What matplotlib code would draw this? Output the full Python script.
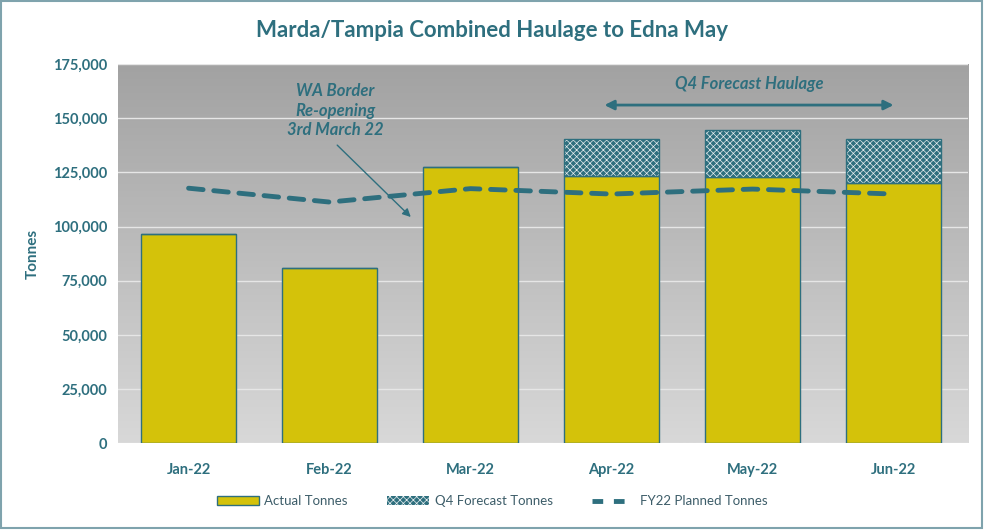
import numpy as np
import matplotlib.pyplot as plt
from matplotlib.patches import Patch, Rectangle
from matplotlib.lines import Line2D
from matplotlib.colors import LinearSegmentedColormap

plt.rcParams['font.family'] = ['Lato', 'DejaVu Sans']
plt.rcParams['hatch.linewidth'] = 0.5

# data
months = ["Jan-22", "Feb-22", "Mar-22", "Apr-22", "May-22", "Jun-22"]
actual = [96500, 80800, 127300, 123300, 122800, 120000]
forecast = [0, 0, 0, 17100, 21700, 20400]
planned = [117700, 111300, 117500, 115000, 117300, 115000]

teal = "#2e6f7e"
yellow = "#d4c20a"

fig = plt.figure(figsize=(9.84, 5.30), dpi=100)
ax = fig.add_axes([0.120, 0.164, 0.864, 0.715])

# gradient background of the plot area
grad = np.linspace(0, 1, 256).reshape(-1, 1)
cmap = LinearSegmentedColormap.from_list("bg", ["#a2a2a2", "#d8d8d8"])
ax.imshow(grad, cmap=cmap, aspect="auto", extent=[0, 1, 0, 1],
          transform=ax.transAxes, zorder=0)

x = np.arange(len(months))
w = 0.67
ax.bar(x, actual, width=w, color=yellow, edgecolor=teal, linewidth=1.0, zorder=3)
# hatched forecast on top: teal fill with white pattern, then teal outline
ax.bar(x, forecast, width=w, bottom=actual, color=teal,
       edgecolor="#e8eef0", hatch="xxxxx", linewidth=0, zorder=3)
ax.bar(x, forecast, width=w, bottom=actual, fill=False,
       edgecolor=teal, linewidth=1.0, zorder=4)
ax.plot(x, planned, color=teal, lw=3.5, dashes=(3, 2.2), zorder=5,
        solid_capstyle="round", dash_capstyle="round")

ax.set_xlim(-0.5, 5.53)
ax.set_ylim(0, 175000)
ax.set_yticks(np.arange(0, 175001, 25000))
ax.set_yticklabels([f"{v:,}" for v in range(0, 175001, 25000)])
ax.set_xticks(x)
ax.set_xticklabels(months)
for s in ax.spines.values():
    s.set_visible(False)
ax.tick_params(length=0, colors=teal, labelsize=10.5, pad=8)
ax.tick_params(axis="x", pad=14)
for lab in ax.get_xticklabels() + ax.get_yticklabels():
    lab.set_fontweight("bold")
ax.yaxis.grid(True, color="#e6e6e6", lw=1.0, zorder=1)
ax.set_axisbelow(True)
ax.set_ylabel("Tonnes", color=teal, fontsize=11, fontweight="bold", labelpad=9)

fig.text(0.5, 0.943, "Marda/Tampia Combined Haulage to Edna May", ha="center",
         va="center", fontsize=16, fontweight="bold", color=teal)

# annotations
ax.text(1.04, 153500, "WA Border\nRe-opening\n3rd March 22", ha="center",
        va="center", fontsize=12, fontweight="bold", style="italic",
        color=teal, linespacing=1.25)
ax.annotate("", xy=(1.59, 103500), xytext=(1.04, 138500),
            arrowprops=dict(arrowstyle="-|>", color=teal, lw=1.0,
                            mutation_scale=12))
ax.text(3.98, 165800, "Q4 Forecast Haulage", ha="center", va="center",
        fontsize=12, fontweight="bold", style="italic", color=teal)
ax.annotate("", xy=(2.93, 156100), xytext=(5.02, 156100),
            arrowprops=dict(arrowstyle="<|-|>", color=teal, lw=2.0,
                            mutation_scale=14))

handles = [
    Patch(facecolor=yellow, edgecolor=teal, linewidth=1.0),
    Patch(facecolor=teal, edgecolor="#e8eef0", hatch="xxxxx", linewidth=0),
    Line2D([0], [0], color=teal, lw=3.5, dashes=(2.2, 2.2)),
]
leg = fig.legend(handles, ["Actual Tonnes", "Q4 Forecast Tonnes", "FY22 Planned Tonnes"],
                 loc="center", bbox_to_anchor=(0.5, 0.054), ncol=3, frameon=False,
                 fontsize=9.5, handlelength=3.2, handleheight=0.7,
                 columnspacing=3.0, handletextpad=0.4)
for t in leg.get_texts():
    t.set_color("#3d5d69")

fig.patches.append(Rectangle((0.001, 0.004), 0.997, 0.994, transform=fig.transFigure,
                             fill=False, edgecolor="#7fa3ad", lw=1.5))

fig.savefig("out.png", dpi=100)
